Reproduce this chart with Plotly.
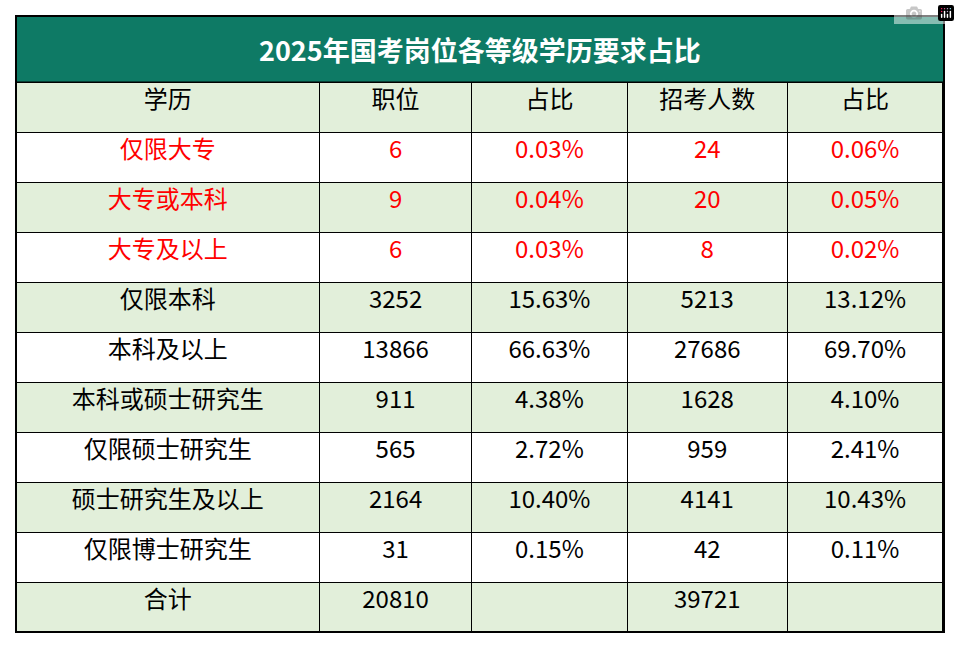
import plotly.graph_objects as go

title = "2025年国考岗位各等级学历要求占比"
headers = ["学历", "职位", "占比", "招考人数", "占比"]
edu = ["仅限大专", "大专或本科", "大专及以上", "仅限本科", "本科及以上", "本科或硕士研究生",
       "仅限硕士研究生", "硕士研究生及以上", "仅限博士研究生", "合计"]
posts = ["6", "9", "6", "3252", "13866", "911", "565", "2164", "31", "20810"]
post_pct = ["0.03%", "0.04%", "0.03%", "15.63%", "66.63%", "4.38%", "2.72%", "10.40%", "0.15%", ""]
people = ["24", "20", "8", "5213", "27686", "1628", "959", "4141", "42", "39721"]
people_pct = ["0.06%", "0.05%", "0.02%", "13.12%", "69.70%", "4.10%", "2.41%", "10.43%", "0.11%", ""]

GREEN = "#e2efda"
fills = ["white" if i % 2 == 0 else GREEN for i in range(len(edu))]
colors = ["#ff0000" if i < 3 else "black" for i in range(len(edu))]

W, H = 960, 648
fig = go.Figure(go.Table(
    domain=dict(x=[16 / W, 944 / W], y=[(H - 632) / H, (H - 82) / H]),
    columnwidth=[304, 152, 156, 160, 156],
    header=dict(values=headers, height=50, fill_color=GREEN, align="center",
                line=dict(color="black", width=1),
                font=dict(size=24, color="black", family="Noto Sans CJK SC")),
    cells=dict(values=[edu, posts, post_pct, people, people_pct], height=50,
               fill_color=[fills] * 5, align="center",
               line=dict(color="black", width=1),
               font=dict(size=24, color=[colors] * 5, family="Noto Sans CJK SC")),
))
fig.add_shape(type="rect", xref="paper", yref="paper", x0=16 / W, x1=944 / W,
              y0=(H - 82) / H, y1=(H - 16) / H, fillcolor="#0e7a65",
              line=dict(color="black", width=1))
fig.add_annotation(text="<b>" + title + "</b>", xref="paper", yref="paper",
                   x=0.5, y=(H - 49) / H, xanchor="center", yanchor="middle",
                   showarrow=False,
                   font=dict(size=27, color="white", family="Noto Sans CJK SC"))
fig.add_shape(type="rect", xref="paper", yref="paper", x0=16 / W, x1=944 / W,
              y0=(H - 632) / H, y1=(H - 16) / H, line=dict(color="black", width=2))
fig.update_layout(width=W, height=H, margin=dict(l=0, r=0, t=0, b=0),
                  paper_bgcolor="white")
fig.write_html("out.html", post_script="document.body.style.margin='0';")
